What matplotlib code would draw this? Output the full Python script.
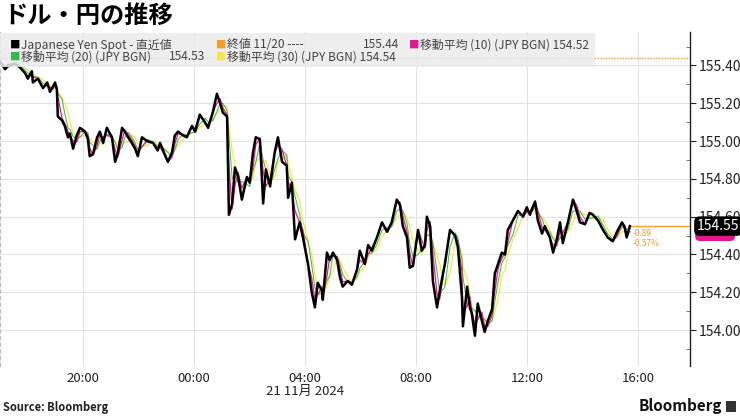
import numpy as np
import pandas as pd
import matplotlib
matplotlib.use("Agg")
import matplotlib.pyplot as plt
import matplotlib.dates as mdates
from matplotlib.patches import Rectangle
from matplotlib.ticker import MultipleLocator

plt.rcParams['font.family'] = ['Noto Sans CJK JP', 'DejaVu Sans']

# USD/JPY spot, 20-21 Nov 2024
times = ["17:00", "17:11", "17:17", "17:32", "17:43", "17:54", "18:00", "18:09", "18:11", "18:22",
         "18:33", "18:42", "18:48", "18:55", "18:59", "19:03", "19:05", "19:14", "19:20", "19:27",
         "19:31", "19:38", "19:46", "19:53", "20:04", "20:10", "20:14", "20:21", "20:30", "20:36",
         "20:43", "20:51", "21:02", "21:09", "21:15", "21:24", "21:30", "21:37", "21:45", "21:52",
         "21:58", "22:07", "22:18", "22:31", "22:41", "22:46", "23:03", "23:12", "23:18", "23:25",
         "23:36", "23:44", "23:55", "00:02", "00:12", "00:23", "00:30", "00:40", "00:49", "00:56",
         "01:02", "01:11", "01:15", "01:22", "01:28", "01:35", "01:43", "01:54", "02:00", "02:07",
         "02:13", "02:22", "02:29", "02:35", "02:44", "02:54", "03:01", "03:10", "03:20", "03:23",
         "03:31", "03:38", "03:48", "03:55", "04:06", "04:14", "04:21", "04:27", "04:36", "04:38",
         "04:47", "04:53", "05:00", "05:09", "05:15", "05:21", "05:32", "05:41", "05:52", "05:58",
         "06:09", "06:16", "06:24", "06:35", "06:46", "06:57", "07:07", "07:18", "07:25", "07:31",
         "07:40", "07:46", "07:53", "08:04", "08:12", "08:19", "08:23", "08:30", "08:36", "08:45",
         "08:51", "09:02", "09:13", "09:24", "09:30", "09:39", "09:41", "09:50", "09:56", "10:00",
         "10:07", "10:13", "10:22", "10:28", "10:35", "10:44", "10:50", "10:57", "11:05", "11:12",
         "11:18", "11:29", "11:40", "11:51", "11:59", "12:06", "12:17", "12:23", "12:32", "12:38",
         "12:49", "12:56", "13:04", "13:11", "13:17", "13:28", "13:39", "13:47", "13:54", "14:05",
         "14:15", "14:22", "14:33", "14:44", "14:54", "15:05", "15:14", "15:25", "15:31", "15:35",
         "15:42"]
spot = [155.42, 155.38, 155.40, 155.41, 155.39, 155.36, 155.33, 155.37, 155.31, 155.33,
        155.28, 155.31, 155.26, 155.29, 155.31, 155.27, 155.13, 155.11, 155.08, 155.02,
        155.04, 154.96, 155.03, 155.07, 155.05, 155.01, 154.92, 154.93, 155.02, 155.05,
        154.99, 155.07, 155.02, 154.89, 154.94, 155.07, 155.05, 155.02, 154.99, 154.96,
        154.92, 155.02, 155.00, 154.99, 154.95, 154.99, 154.89, 154.94, 155.03, 155.05,
        155.03, 155.02, 155.08, 155.05, 155.14, 155.10, 155.07, 155.15, 155.25, 155.20,
        155.15, 155.13, 154.61, 154.67, 154.86, 154.81, 154.69, 154.81, 154.78, 154.94,
        155.02, 155.01, 154.67, 154.85, 154.76, 154.94, 155.02, 154.89, 154.87, 154.70,
        154.78, 154.48, 154.57, 154.49, 154.35, 154.20, 154.12, 154.25, 154.21, 154.16,
        154.41, 154.37, 154.41, 154.37, 154.28, 154.23, 154.26, 154.24, 154.32, 154.42,
        154.35, 154.45, 154.42, 154.49, 154.57, 154.52, 154.57, 154.69, 154.66, 154.55,
        154.49, 154.33, 154.34, 154.53, 154.42, 154.45, 154.60, 154.55, 154.26, 154.12,
        154.21, 154.35, 154.53, 154.50, 154.44, 154.17, 154.02, 154.23, 154.12, 154.09,
        153.97, 154.14, 154.05, 153.99, 154.05, 154.11, 154.30, 154.35, 154.41, 154.40,
        154.53, 154.58, 154.63, 154.60, 154.65, 154.61, 154.68, 154.58, 154.51, 154.55,
        154.49, 154.41, 154.48, 154.57, 154.46, 154.57, 154.69, 154.63, 154.57, 154.56,
        154.62, 154.61, 154.58, 154.53, 154.49, 154.47, 154.52, 154.57, 154.54, 154.49,
        154.55]

prev_close = 155.44
last_spot = 154.55
last_ma10 = 154.52
change_txt = ["-0.89", "-0.57%"]

legend_labels = ["Japanese Yen Spot - 直近値", "終値 11/20 ----", "移動平均 (10) (JPY BGN) 154.52",
                 "移動平均 (20) (JPY BGN)", "移動平均 (30) (JPY BGN) 154.54"]
legend_values = ["", "155.44", "", "154.53", ""]

xtick_times = ["2024-11-20 20:00", "2024-11-21 00:00", "2024-11-21 04:00",
               "2024-11-21 08:00", "2024-11-21 12:00", "2024-11-21 16:00"]
xtick_labels = ["20:00", "00:00", "04:00", "08:00", "12:00", "16:00"]
yticks = [154.00, 154.20, 154.40, 154.60, 154.80, 155.00, 155.20, 155.40]

c_black = "#000000"
c_orange = "#f39c2a"
c_magenta = "#e5158f"
c_green = "#33b84a"
c_yellow = "#f3e74c"

# build timestamps, rolling over to 21 Nov after midnight
stamps = []
day = pd.Timestamp("2024-11-20")
prev = None
for t in times:
    h, m = map(int, t.split(":"))
    if prev is not None and h * 60 + m < prev:
        day = day + pd.Timedelta(days=1)
    prev = h * 60 + m
    stamps.append(day + pd.Timedelta(hours=h, minutes=m))
s = pd.Series(spot, index=pd.DatetimeIndex(stamps))
ma10 = s.rolling("10min").mean()
ma20 = s.rolling("20min").mean()
ma30 = s.rolling("30min").mean()

W, H = 740, 416
fig = plt.figure(figsize=(W / 100, H / 100), dpi=100)
ax = fig.add_axes([0, 1 - 366 / H, 690 / W, (366 - 32) / H])


def fx(px):
    return px / W


def fy(py):
    return 1 - py / H


ax.plot(ma30.index, ma30.values, color=c_yellow, lw=0.9, zorder=3)
ax.plot(ma20.index, ma20.values, color=c_green, lw=0.7, zorder=3)
ax.plot(ma10.index, ma10.values, color=c_magenta, lw=0.9, zorder=3)
ax.plot(s.index, s.values, color=c_black, lw=1.8, zorder=4)

ax.axhline(prev_close, color=c_orange, lw=1, ls=(0, (1, 1)), zorder=2)
ax.plot([s.index[-1], pd.Timestamp("2024-11-21 18:00")], [last_spot, last_spot],
        color=c_orange, lw=0.9, zorder=2)

ax.set_xlim(pd.Timestamp("2024-11-20 17:00"), pd.Timestamp("2024-11-21 17:52"))
ax.set_ylim(153.81, 155.577)

ax.set_xticks(pd.to_datetime(xtick_times))
ax.set_xticklabels(xtick_labels)
ax.set_yticks(yticks)
ax.set_yticklabels([f"{v:.2f}" for v in yticks])
ax.yaxis.set_minor_locator(MultipleLocator(0.1))
ax.yaxis.tick_right()
ax.tick_params(axis="y", which="major", direction="out", length=4, width=0.8,
               labelsize=10, pad=2, colors="#222222")
ax.tick_params(axis="y", which="minor", direction="in", length=3, width=0.6, colors="#555555")
ax.tick_params(axis="x", length=0, labelsize=9.5, pad=4, colors="#222222")

ax.grid(True, which="major", color="#e2e2e2", lw=0.8)
ax.set_axisbelow(True)
for side in ["top", "bottom"]:
    ax.spines[side].set_visible(False)
ax.spines["left"].set_linestyle((0, (3, 3)))
ax.spines["left"].set_color("#bbbbbb")
ax.spines["left"].set_linewidth(0.8)
ax.spines["right"].set_color("#222222")
ax.spines["right"].set_linewidth(1)

ax.text(pd.Timestamp("2024-11-21 04:00"), -0.058, "21 11月 2024", transform=ax.get_xaxis_transform(),
        ha="center", va="top", fontsize=9.5, color="#222222")

# legend panel
ax.add_patch(Rectangle((0, (366 - 67) / 334), 595 / 690, 34 / 334, transform=ax.transAxes,
                       facecolor="#ebebeb", edgecolor="none", alpha=0.85, zorder=6))
leg_colors = [c_black, c_orange, c_magenta, c_green, c_yellow]
leg_pos = [(15, 45), (221, 45), (414, 45), (15, 57), (221, 57)]
val_right = [None, 399, None, 205, None]
for lab, val, col, (px, py), vr in zip(legend_labels, legend_values, leg_colors, leg_pos, val_right):
    fig.text(fx(px), fy(py), "■", color=col, fontsize=7.5, ha="center", va="center", zorder=7)
    fig.text(fx(px + 6), fy(py), lab, color="#444444", fontsize=8.6, ha="left", va="center", zorder=7)
    if val:
        fig.text(fx(vr), fy(py), val, color="#444444", fontsize=8.6, ha="right", va="center", zorder=7)

# last value tags (the 10-period MA tag sits mostly hidden behind the spot tag)
ax.annotate(f"{last_ma10:.2f}", xy=(1.0, last_ma10 - 0.005), xycoords=("axes fraction", "data"),
            xytext=(5, 0), textcoords="offset points", ha="left", va="center", fontsize=8.5,
            color=c_magenta, annotation_clip=False, zorder=8,
            bbox=dict(boxstyle="round,pad=0.15,rounding_size=0.4", fc=c_magenta, ec="none"))
ax.annotate(f"{last_spot:.2f}", xy=(1.0, last_spot), xycoords=("axes fraction", "data"),
            xytext=(5, 0), textcoords="offset points", ha="left", va="center", fontsize=10,
            color="white", annotation_clip=False, zorder=9,
            bbox=dict(boxstyle="round,pad=0.2,rounding_size=0.4", fc="black", ec="none"))

fig.text(fx(633), fy(234), change_txt[0], color=c_orange, fontsize=6, ha="left", va="center")
fig.text(fx(633), fy(243), change_txt[1], color=c_orange, fontsize=6, ha="left", va="center")

fig.text(fx(3), fy(16), "ドル・円の推移", fontsize=17.5, fontweight="bold", ha="left", va="center")
fig.text(fx(3), fy(407), "Source: Bloomberg", fontsize=8, fontweight="bold", ha="left", va="center",
         color="#222222")
fig.text(fx(722), fy(406), "Bloomberg", fontsize=11, fontweight="bold", ha="right", va="center",
         color="#111111")
fig.patches.append(Rectangle((fx(726), fy(412)), 10 / W, 11 / H, transform=fig.transFigure,
                             facecolor="#333333", edgecolor="none"))

fig.savefig("out.png", dpi=100)
